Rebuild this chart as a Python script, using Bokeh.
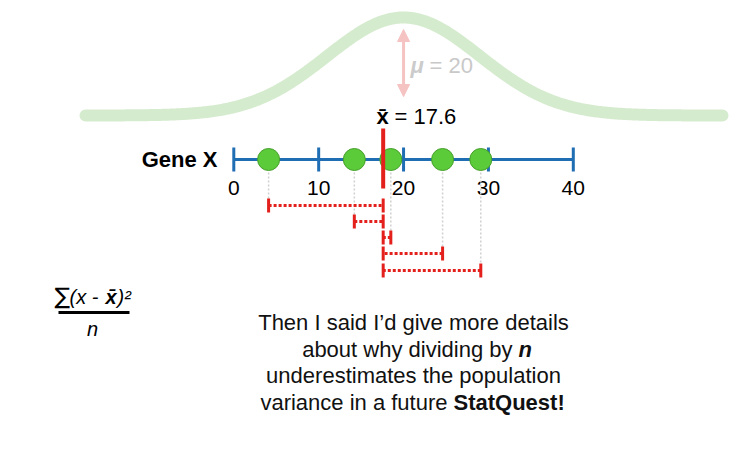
import numpy as np
from bokeh.plotting import figure
from bokeh.models import Range1d, Arrow, NormalHead
from bokeh.core.properties import value
from bokeh.embed import file_html
from bokeh.resources import INLINE

# ---------------- data ----------------
gene_label = "Gene X"
gene_x_values = [4.1, 14.2, 18.5, 24.6, 29.1]
mean_value = 17.6
mean_label = "= 17.6"
mu_value = 20
mu_label = "= 20"
sigma_value = 9
tick_values = [0, 10, 20, 30, 40]
tick_labels = ["0", "10", "20", "30", "40"]
body_lines = ["Then I said I\u2019d give more details",
              "about why dividing by",
              "underestimates the population",
              "variance in a future"]
body_bold = ["n", "StatQuest!"]

# ---------------- layout helpers ----------------
W, H = 731, 464
PX_PER_UNIT = 8.4875
X0 = -233.3 / PX_PER_UNIT
X1 = X0 + W / PX_PER_UNIT


def px(xp):
    """page pixel x -> data x (for annotation placement only)"""
    return X0 + xp / PX_PER_UNIT


FONT = value("Liberation Sans")
RED = "#e3201c"
BLUE = "#1f6db3"

p = figure(width=W, height=H, x_range=Range1d(X0, X1), y_range=Range1d(H, 0),
           output_backend="svg", toolbar_location=None, min_border=0,
           x_axis_type=None, y_axis_type=None)
p.grid.visible = False
p.outline_line_color = None
p.background_fill_color = "white"
p.border_fill_color = "white"

# ---------------- bell curve ----------------
xs = np.linspace(px(85), px(722), 400)
ys = 115 - 98 * np.exp(-(xs - mu_value) ** 2 / (2 * sigma_value ** 2))
p.line(xs, ys, line_width=12, line_color="#d5ebce", line_cap="round")

# mu arrow
p.add_layout(Arrow(x_start=mu_value, y_start=29, x_end=mu_value, y_end=96,
                   line_color="#f6c3c3", line_width=3,
                   start=NormalHead(size=12, fill_color="#f6c3c3", line_color="#f6c3c3"),
                   end=NormalHead(size=12, fill_color="#f6c3c3", line_color="#f6c3c3")))
p.text(x=[px(410)], y=[65], text=["\u03bc"], text_font=FONT, text_font_size="22px",
       text_font_style="bold italic", text_color="#cbcbcb", text_align="left", text_baseline="middle")
p.text(x=[px(429)], y=[65], text=[mu_label], text_font=FONT, text_font_size="22px",
       text_color="#c9c9c9", text_align="left", text_baseline="middle")

# x-bar label
p.text(x=[px(376)], y=[116], text=["x\u0304"], text_font=FONT, text_font_size="22px",
       text_font_style="bold", text_color="black", text_align="left", text_baseline="middle")
p.text(x=[px(394)], y=[116], text=[mean_label], text_font=FONT, text_font_size="22px",
       text_color="black", text_align="left", text_baseline="middle")

# ---------------- number line ----------------
AXIS_Y = 159
p.line([tick_values[0], tick_values[-1]], [AXIS_Y, AXIS_Y], line_color=BLUE, line_width=3)
p.segment(x0=tick_values, y0=[AXIS_Y - 12] * 5, x1=tick_values, y1=[AXIS_Y + 12] * 5,
          line_color=BLUE, line_width=3)
p.text(x=tick_values, y=[187] * 5, text=tick_labels, text_font=FONT, text_font_size="21px",
       text_color="black", text_align="center", text_baseline="middle")
p.text(x=[px(217)], y=[AXIS_Y], text=[gene_label], text_font=FONT, text_font_size="22px",
       text_font_style="bold", text_color="black", text_align="right", text_baseline="middle")

# ---------------- residuals ----------------
row_y = [205, 221, 237, 253, 270]
n = len(gene_x_values)
p.segment(x0=gene_x_values, y0=[AXIS_Y + 13] * n, x1=gene_x_values, y1=[y - 7 for y in row_y],
          line_color="#d0d0d0", line_width=1.5, line_dash="2 2")
p.segment(x0=gene_x_values, y0=row_y, x1=[mean_value] * n, y1=row_y,
          line_color=RED, line_width=3, line_dash="3 2")
p.segment(x0=gene_x_values, y0=[y - 7 for y in row_y], x1=gene_x_values, y1=[y + 7 for y in row_y],
          line_color=RED, line_width=3)
p.segment(x0=[mean_value] * n, y0=[y - 7 for y in row_y], x1=[mean_value] * n,
          y1=[y + 7 for y in row_y], line_color=RED, line_width=3)

# points and mean line
p.scatter(gene_x_values, [AXIS_Y] * n, size=22, fill_color="#5ccb3a", line_color="#479f2c",
          line_width=1)
p.segment(x0=[mean_value], y0=[128], x1=[mean_value], y1=[188], line_color=RED, line_width=4)

# ---------------- formula ----------------
p.text(x=[px(54)], y=[295], text=["\u2211"], text_font=value("DejaVu Sans"), text_font_size="23px",
       text_color="black", text_align="left", text_baseline="middle")
p.text(x=[px(69)], y=[296], text=["(x - "], text_font=FONT, text_font_size="20px",
       text_font_style="italic", text_color="black", text_align="left", text_baseline="middle")
p.text(x=[px(105)], y=[296], text=["x\u0304"], text_font=FONT, text_font_size="20px",
       text_font_style="bold italic", text_color="black", text_align="left", text_baseline="middle")
p.text(x=[px(117)], y=[296], text=[")\u00b2"], text_font=FONT, text_font_size="20px",
       text_font_style="italic", text_color="black", text_align="left", text_baseline="middle")
p.segment(x0=[px(58)], y0=[312], x1=[px(129)], y1=[312], line_color="black", line_width=3)
p.text(x=[px(92)], y=[328], text=["n"], text_font=FONT, text_font_size="20px",
       text_font_style="italic", text_color="black", text_align="center", text_baseline="middle")

# ---------------- body text ----------------
LINE_Y = [322, 348.5, 375, 401.5]
p.text(x=[px(413), px(413)], y=[LINE_Y[0], LINE_Y[2]], text=[body_lines[0], body_lines[2]],
       text_font=FONT, text_font_size="22px", text_color="#111111",
       text_align="center", text_baseline="middle")
p.text(x=[px(512), px(447)], y=[LINE_Y[1], LINE_Y[3]], text=[body_lines[1], body_lines[3]],
       text_font=FONT, text_font_size="22px", text_color="#111111",
       text_align="right", text_baseline="middle")
p.text(x=[px(518)], y=[LINE_Y[1]], text=[body_bold[0]], text_font=FONT, text_font_size="22px",
       text_font_style="bold italic", text_color="#111111", text_align="left", text_baseline="middle")
p.text(x=[px(453)], y=[LINE_Y[3]], text=[body_bold[1]], text_font=FONT, text_font_size="22px",
       text_font_style="bold", text_color="#111111", text_align="left", text_baseline="middle")

open("out.html", "w").write(file_html(p, INLINE))
